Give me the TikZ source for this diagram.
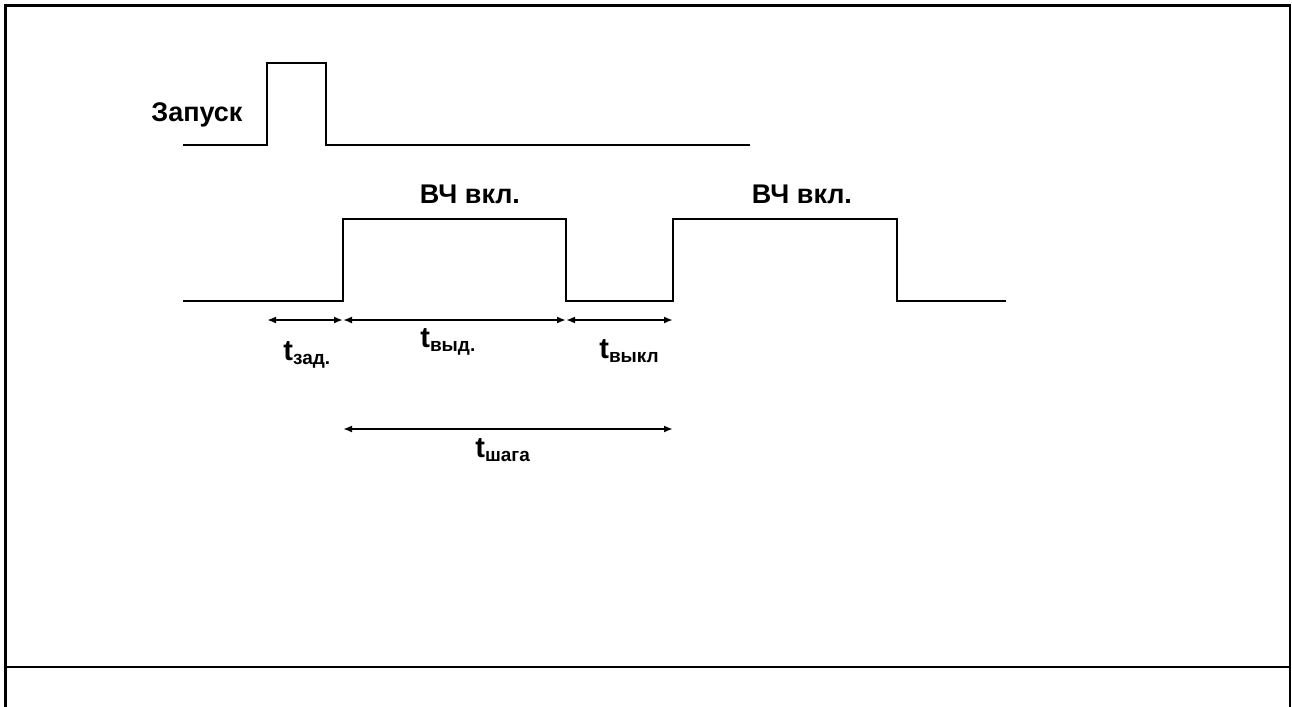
\documentclass[tikz,border=0pt]{standalone}
\usepackage{fontspec}
\setmainfont{Liberation Sans}
\usetikzlibrary{arrows.meta}

\newcommand{\tsub}[1]{{\fontsize{14.5}{15}\selectfont t}\raisebox{-0.35ex}{\fontsize{9.5}{10}\selectfont #1}}

\begin{document}
\begin{tikzpicture}[x=0.5pt,y=-0.5pt,
        frame/.style={line width=1.4pt},
        sig/.style={line width=1.05pt},
        dim/.style={line width=0.9pt,{Latex[length=4.5pt,width=3.5pt]}-{Latex[length=4.5pt,width=3.5pt]}},
        lbl/.style={font=\fontsize{13.5}{15}\selectfont\bfseries,inner sep=0pt}]
            \useasboundingbox (0,0) rectangle (1292,707);

            \draw[frame] (5.5,707) -- (5.5,5.5) -- (1290,5.5) -- (1290,707);
            \draw[frame] (5.5,667) -- (1290,667);

            \coordinate (a0) at (183,145);
            \coordinate (a1) at (267,145);
            \coordinate (a2) at (267,63);
            \coordinate (a3) at (326,63);
            \coordinate (a4) at (326,145);
            \coordinate (a5) at (750,145);
            \draw[sig] (a0) -- (a1) -- (a2) -- (a3) -- (a4) -- (a5);

            \coordinate (b0) at (183,301);
            \coordinate (b1) at (343,301);
            \coordinate (b2) at (343,219);
            \coordinate (b3) at (566,219);
            \coordinate (b4) at (566,301);
            \coordinate (b5) at (673,301);
            \coordinate (b6) at (673,219);
            \coordinate (b7) at (897,219);
            \coordinate (b8) at (897,301);
            \coordinate (b9) at (1006,301);
            \draw[sig] (b0) -- (b1) -- (b2) -- (b3) -- (b4) -- (b5) -- (b6) -- (b7) -- (b8) -- (b9);

            \coordinate (d0) at (267,320);
            \coordinate (d1) at (343,320);
            \coordinate (d2) at (566,320);
            \coordinate (d3) at (673,320);
            \draw[dim] (d0) -- (d1);
            \draw[dim] (d1) -- (d2);
            \draw[dim] (d2) -- (d3);

            \coordinate (e0) at (343,429);
            \coordinate (e1) at (673,429);
            \draw[dim] (e0) -- (e1);

            \node[lbl,anchor=base west] (zap) at (151,121) {Запуск};
            \node[lbl,anchor=base] (vch1) at (470,203) {ВЧ вкл.};
            \node[lbl,anchor=base] (vch2) at (802,203) {ВЧ вкл.};

            \node[lbl,anchor=base west] (tz) at (283,360) {\tsub{зад.}};
            \node[lbl,anchor=base west] (tv) at (420,347) {\tsub{выд.}};
            \node[lbl,anchor=base west] (toff) at (599,358) {\tsub{выкл}};
            \node[lbl,anchor=base west] (tstep) at (475,457) {\tsub{шага}};
        \end{tikzpicture}
\end{document}
